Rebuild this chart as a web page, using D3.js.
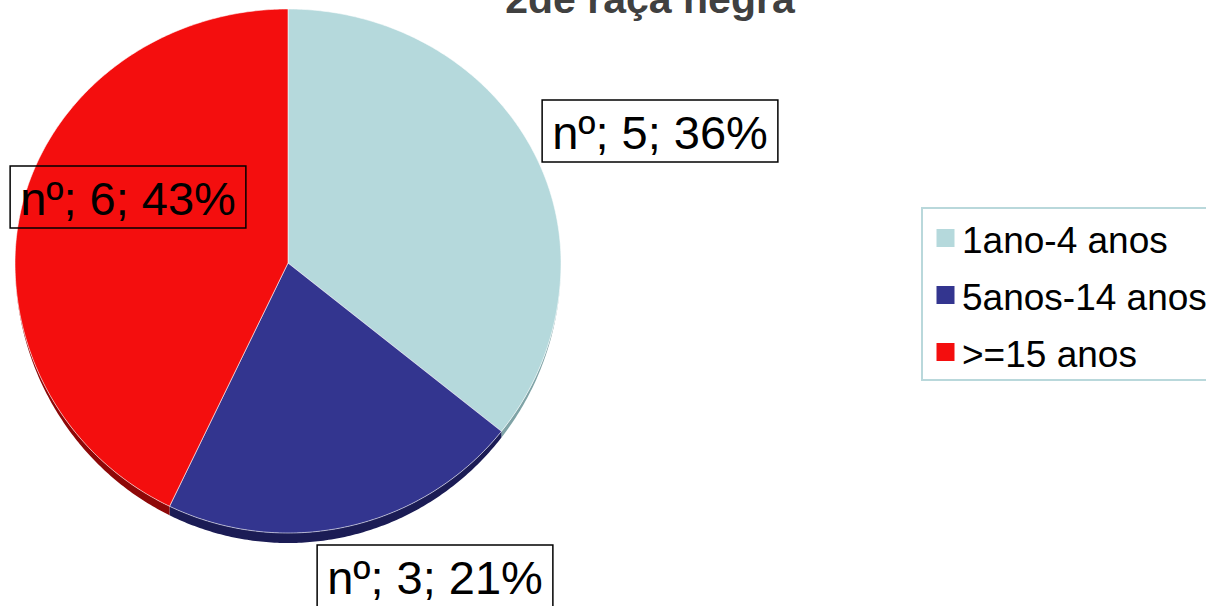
<!DOCTYPE html>
<html lang="pt">
<head>
<meta charset="utf-8">
<title>2de raça negra</title>
<script src="https://cdnjs.cloudflare.com/ajax/libs/d3/7.8.5/d3.min.js"></script>
<style>
  body { margin: 0; background: #fff; }
  svg text { font-family: "Liberation Sans", Arial, sans-serif; }
</style>
</head>
<body>
<div id="vis"></div>
<script>
// data
var categories = ["1ano-4 anos", "5anos-14 anos", ">=15 anos"];
var counts = [5, 3, 6];
var colors = ["#b5d9dc", "#33358f", "#f40e0e"];
var sideColors = ["#7fa3a6", "#1b1c55", "#8e0808"];
var title = "2de raça negra";

var width = 1206, height = 606;
var cx = 288, cy = 263, rx = 273, ryTop = 254, ryBot = 270, depth = 10;

// label centres (Excel-style placement), one per slice
var labelPos = [[660, 131], [435, 576], [128, 197]];

var svg = d3.select("#vis").append("svg")
  .attr("width", width)
  .attr("height", height);

var total = d3.sum(counts);
var pie = d3.pie().sort(null).value(function(d) { return d; });
var arcs = pie(counts);

// tilted pie: top half a bit flatter than the bottom half
function proj(a, drop) {
  var c = Math.cos(a);
  var ry = c > 0 ? ryTop : ryBot;
  var off = drop ? depth * Math.max(0, -c) : 0;
  return [cx + rx * Math.sin(a), cy - ry * c + off];
}

function edge(a0, a1, drop) {
  var pts = [];
  var n = Math.max(2, Math.ceil((a1 - a0) / 0.01));
  var s = d3.scaleLinear().domain([0, n]).range([a0, a1]);
  for (var i = 0; i <= n; i++) pts.push(proj(s(i), drop));
  return pts;
}

var line = d3.line();

// side band (visible on the front half only)
var sides = svg.append("g");
arcs.forEach(function(d, i) {
  var a0 = Math.max(d.startAngle, Math.PI / 2);
  var a1 = Math.min(d.endAngle, Math.PI * 3 / 2);
  if (a0 >= a1) return;
  var pts = edge(a0, a1, false).concat(edge(a0, a1, true).reverse());
  sides.append("path")
    .attr("d", line(pts) + "Z")
    .attr("fill", sideColors[i]);
});

// top surface
var tops = svg.append("g");
arcs.forEach(function(d, i) {
  var pts = [[cx, cy]].concat(edge(d.startAngle, d.endAngle, false));
  tops.append("path")
    .attr("d", line(pts) + "Z")
    .attr("fill", colors[i])
    .attr("stroke", "#ffffff")
    .attr("stroke-opacity", 0.55)
    .attr("stroke-width", 1)
    .attr("stroke-linejoin", "round");
});

// data labels
arcs.forEach(function(d, i) {
  var pct = Math.round(d.value / total * 100);
  var g = svg.append("g")
    .attr("transform", "translate(" + labelPos[i][0] + "," + labelPos[i][1] + ")");
  var t = g.append("text")
    .attr("text-anchor", "middle")
    .attr("y", 18)
    .attr("font-size", 47)
    .attr("fill", "#000")
    .text("n\u00ba; " + d.value + "; " + pct + "%");
  var bw = t.node().getBBox().width + 20;
  var bh = 62;
  g.insert("rect", "text")
    .attr("x", -bw / 2)
    .attr("y", -bh / 2)
    .attr("width", bw)
    .attr("height", bh)
    .attr("fill", "none")
    .attr("stroke", "#000")
    .attr("stroke-width", 1.5);
});

// title (cut off at the top edge in the original)
svg.append("text")
  .attr("x", 650)
  .attr("y", 13)
  .attr("text-anchor", "middle")
  .attr("font-size", 41)
  .attr("font-weight", "bold")
  .attr("fill", "#404040")
  .text(title);

// legend
var legend = svg.append("g");
legend.append("rect")
  .attr("x", 922)
  .attr("y", 208)
  .attr("width", 300)
  .attr("height", 172)
  .attr("fill", "none")
  .attr("stroke", "#b9d8db")
  .attr("stroke-width", 2);

var ly = d3.scalePoint().domain(categories).range([238, 352]);

categories.forEach(function(c, i) {
  legend.append("rect")
    .attr("x", 936)
    .attr("y", ly(c) - 9.5)
    .attr("width", 19)
    .attr("height", 19)
    .attr("fill", colors[i])
    .attr("stroke", "#ffffff")
    .attr("stroke-width", 1);
  legend.append("text")
    .attr("x", 962)
    .attr("y", ly(c) + 15)
    .attr("font-size", 37)
    .attr("fill", "#000")
    .text(c);
});
</script>
</body>
</html>
